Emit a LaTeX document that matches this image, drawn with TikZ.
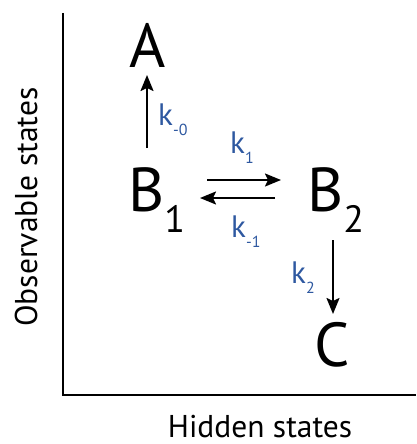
\documentclass[tikz,border=0pt]{standalone}
\usepackage{fontspec}
\setmainfont{PT Sans}
\usetikzlibrary{arrows.meta}
\definecolor{kblue}{RGB}{46,88,160}
\begin{document}
\begin{tikzpicture}[x=1pt,y=-1pt,
  axis/.style={line width=2pt},
  arr/.style={line width=2pt,-{Stealth[length=16pt,width=13pt,inset=3pt]}},
  big/.style={inner sep=0pt,anchor=base west,font=\fontsize{62}{62}\selectfont},
  rate/.style={inner sep=0pt,anchor=base west,text=kblue,font=\fontsize{31}{31}\selectfont},
  axlab/.style={inner sep=0pt,font=\fontsize{31.5}{31.5}\selectfont}]
\useasboundingbox (0,0) rectangle (416,444);
\coordinate (top) at (63,13);
\coordinate (origin) at (63,395);
\coordinate (right) at (416,395);
\draw[axis] (top) -- (origin) -- (right);
\node[axlab,anchor=base] (xl) at (260,437) {Hidden states};
\node[axlab,anchor=base,rotate=90] (yl) at (37,207) {Observable states};
\newcommand{\lowsub}[1]{\raisebox{-21pt}{\fontsize{38}{38}\selectfont #1}}
\newcommand{\ksub}[1]{\raisebox{-10pt}{\fontsize{16}{16}\selectfont #1}}
\node[big] (A) at (129,67) {A};
\node[big] (B1) at (128,211) {B\lowsub{1}};
\node[big] (B2) at (307,211) {B\lowsub{2}};
\node[big] (C) at (314,366) {C};
\coordinate (a0) at (147,148);
\coordinate (a1) at (147,75);
\coordinate (f0) at (207,180);
\coordinate (f1) at (281,180);
\coordinate (r0) at (275,198);
\coordinate (r1) at (200,198);
\coordinate (c0) at (333,240);
\coordinate (c1) at (333,314);
\draw[arr] (a0) -- (a1);
\draw[arr] (f0) -- (f1);
\draw[arr] (r0) -- (r1);
\draw[arr] (c0) -- (c1);
\node[rate] (k0) at (158,125) {k\ksub{-0}};
\node[rate] (k1) at (230,153) {k\ksub{1}};
\node[rate] (km1) at (231,237) {k\ksub{-1}};
\node[rate] (k2) at (291,283) {k\ksub{2}};
\end{tikzpicture}
\end{document}
